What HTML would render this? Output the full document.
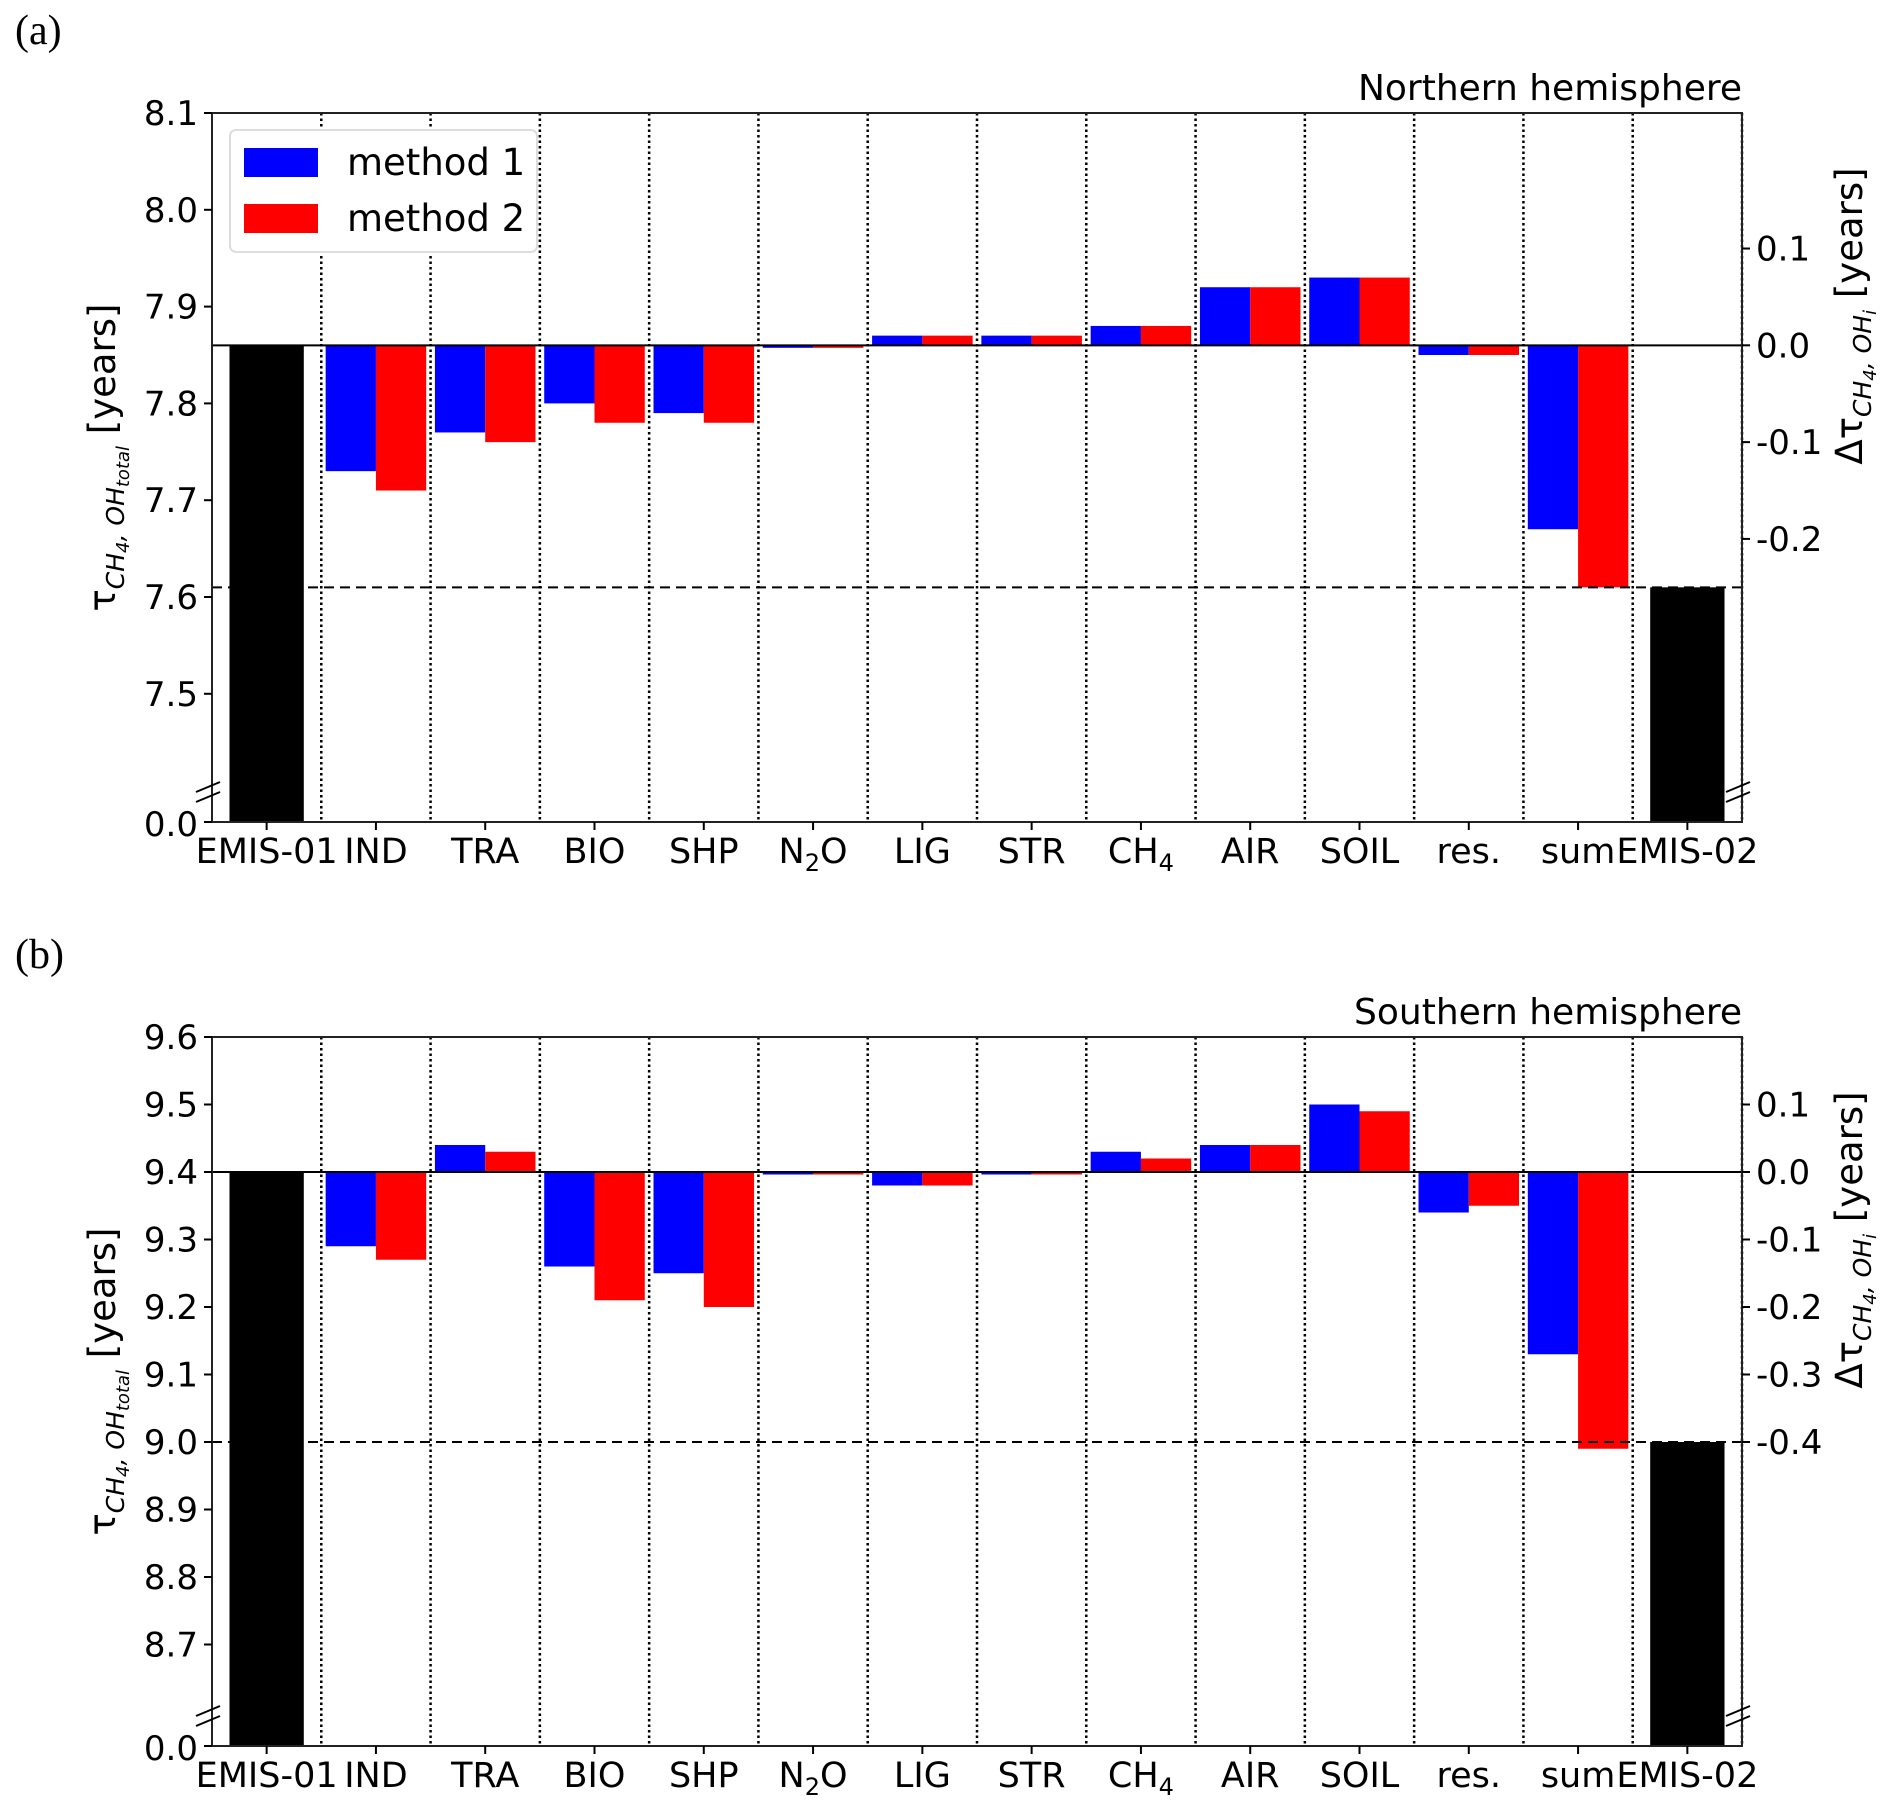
<!DOCTYPE html>
<html><head><meta charset="utf-8"><style>
html,body{margin:0;padding:0;background:#fff;}
svg{display:block;font-family:"DejaVu Sans","Liberation Sans",sans-serif;}
</style></head><body>
<svg id="fig" width="1892" height="1814" viewBox="0 0 1892 1814" xmlns="http://www.w3.org/2000/svg"></svg>
<script>
const categories = ["EMIS-01","IND","TRA","BIO","SHP","N2O","LIG","STR","CH4","AIR","SOIL","res.","sum","EMIS-02"];
const northM1 = [7.73,7.77,7.80,7.79,7.859,7.87,7.87,7.88,7.92,7.93,7.85,7.67];
const northM2 = [7.71,7.76,7.78,7.78,7.859,7.87,7.87,7.88,7.92,7.93,7.85,7.61];
const northRef = [7.86,7.61];
const southM1 = [9.29,9.44,9.26,9.25,9.399,9.38,9.399,9.43,9.44,9.50,9.34,9.13];
const southM2 = [9.27,9.43,9.21,9.20,9.399,9.38,9.399,9.42,9.44,9.49,9.35,8.99];
const southRef = [9.40,9.00];
const northTicks = [8.1,8.0,7.9,7.8,7.7,7.6,7.5];
const southTicks = [9.6,9.5,9.4,9.3,9.2,9.1,9.0,8.9,8.8,8.7];
const northDTicks = [0.1,0.0,-0.1,-0.2];
const southDTicks = [0.1,0.0,-0.1,-0.2,-0.3,-0.4];

const NS="http://www.w3.org/2000/svg";
const svg=document.getElementById('fig');
function mk(tag,attrs,parent){const e=document.createElementNS(NS,tag);for(const k in attrs)e.setAttribute(k,attrs[k]);(parent||svg).appendChild(e);return e;}

function panel(o){
  const g=mk('g',{});
  
  
  const L=212,R=1742,T=o.top,B=o.bottom;
  const slot=(R-L)/categories.length;
  const y=v=>T+(o.ymax-v)/0.1*o.per;
  const xc=i=>L+slot*(i+0.5);
  const zero=o.ref[0];
  const pl=mk('text',{x:15,y:o.top-69,'font-size':42,'font-family':'"Liberation Serif",serif'},g);pl.textContent=o.letter;
  
  
  const tt=mk('text',{x:R,y:T-13,'font-size':36,'text-anchor':'end'},g);tt.textContent=o.title;
  
  
  for(let i=1;i<=categories.length;i++){
    const x=L+slot*i;
    const ln=mk('line',{x1:x,y1:T,x2:x,y2:B,stroke:'#000','stroke-width':2.5,'stroke-dasharray':'2.5,3'},g);
    
    
  }
  const bw=slot*0.68;
  [[0,o.ref[0]],[categories.length-1,o.ref[1]]].forEach(([i,v])=>{
    const r=mk('rect',{x:xc(i)-bw/2,y:y(v),width:bw,height:B-y(v),fill:'#000'},g);
    
    
  });
  const hw=slot*0.46;
  o.m1.forEach((v,k)=>{
    const i=k+1;
    const y0=Math.min(y(v),y(zero)),h=Math.max(Math.abs(y(v)-y(zero)),2.5);
    const r=mk('rect',{x:xc(i)-hw,y:y0,width:hw,height:h,fill:'#0000ff'},g);
    
    
  });
  o.m2.forEach((v,k)=>{
    const i=k+1;
    const y0=Math.min(y(v),y(zero)),h=Math.max(Math.abs(y(v)-y(zero)),2.5);
    const r=mk('rect',{x:xc(i),y:y0,width:hw,height:h,fill:'#ff0000'},g);
    
    
  });
  const zl=mk('line',{x1:L,y1:y(zero),x2:R,y2:y(zero),stroke:'#000','stroke-width':2},g);
  
  
  const dl=mk('line',{x1:L,y1:y(o.ref[1]),x2:R,y2:y(o.ref[1]),stroke:'#000','stroke-width':2,'stroke-dasharray':'10,6'},g);
  
  
  const fr=mk('rect',{x:L,y:T,width:R-L,height:B-T,fill:'none',stroke:'#222','stroke-width':2},g);
  
  
  o.ticks.forEach(t=>{
    mk('line',{x1:L-8,y1:y(t),x2:L,y2:y(t),stroke:'#000','stroke-width':2},g);
    const tx=mk('text',{x:L-14,y:y(t)+12,'font-size':34,'text-anchor':'end'},g);tx.textContent=t.toFixed(1);
    
    
  });
  mk('line',{x1:L-8,y1:B,x2:L,y2:B,stroke:'#000','stroke-width':2},g);
  const z0=mk('text',{x:L-14,y:B+14,'font-size':34,'text-anchor':'end'},g);z0.textContent='0.0';
  
  
  o.dticks.forEach(t=>{
    const yy=y(zero+t);
    mk('line',{x1:R,y1:yy,x2:R+8,y2:yy,stroke:'#000','stroke-width':2},g);
    const tx=mk('text',{x:R+14,y:yy+12,'font-size':34},g);tx.textContent=(t<0?'-':'')+Math.abs(t).toFixed(1);
    
    
  });
  [L,R].forEach(x=>{
    mk('line',{x1:x-16,y1:B-30,x2:x+8,y2:B-40,stroke:'#000','stroke-width':2},g);
    mk('line',{x1:x-16,y1:B-20,x2:x+8,y2:B-30,stroke:'#000','stroke-width':2},g);
  });
  categories.forEach((c,i)=>{
    mk('line',{x1:xc(i),y1:B,x2:xc(i),y2:B+8,stroke:'#000','stroke-width':2},g);
    const tx=mk('text',{x:xc(i),y:B+41,'font-size':35,'text-anchor':'middle'},g);
    if(c==='N2O'){tx.innerHTML='N<tspan font-size="24" dy="8">2</tspan><tspan dy="-8">O</tspan>';}
    else if(c==='CH4'){tx.innerHTML='CH<tspan font-size="24" dy="8">4</tspan>';}
    else tx.textContent=c;
    
    
  });
  const yl=mk('text',{transform:`translate(115,${(T+B)/2-10}) rotate(-90)`,'font-size':37,'text-anchor':'middle'},g);
  yl.innerHTML='τ<tspan font-size="25" font-style="italic" dy="9">CH</tspan><tspan font-size="18" font-style="italic" dy="5">4</tspan><tspan font-size="25" font-style="italic" dy="-5">, OH</tspan><tspan font-size="18" font-style="italic" dy="5">total</tspan><tspan dy="-14"> [years]</tspan>';
  
  
  const rl=mk('text',{transform:`translate(1862,${T+203}) rotate(-90)`,'font-size':37,'text-anchor':'middle'},g);
  rl.innerHTML='Δτ<tspan font-size="25" font-style="italic" dy="9">CH</tspan><tspan font-size="18" font-style="italic" dy="5">4</tspan><tspan font-size="25" font-style="italic" dy="-5">, OH</tspan><tspan font-size="18" font-style="italic" dy="5">i</tspan><tspan dy="-14"> [years]</tspan>';
  
  
  if(o.legend){
    const lg=mk('g',{},g);
    
    
    mk('rect',{x:230,y:130,width:307,height:122,rx:6,fill:'#fff',stroke:'#ddd','stroke-width':2},lg);
    mk('rect',{x:244,y:148,width:74,height:29,fill:'#0000ff'},lg);
    mk('rect',{x:244,y:204,width:74,height:29,fill:'#ff0000'},lg);
    const a=mk('text',{x:347,y:175,'font-size':37},lg);a.textContent='method 1';
    
    
    const b=mk('text',{x:347,y:231,'font-size':37},lg);b.textContent='method 2';
    
    
  }
}
panel({name:'panel-a-northern',letter:'(a)',title:'Northern hemisphere',top:113,bottom:822,ymax:8.1,per:96.8,m1:northM1,m2:northM2,ref:northRef,ticks:northTicks,dticks:northDTicks,legend:true});
panel({name:'panel-b-southern',letter:'(b)',title:'Southern hemisphere',top:1037,bottom:1746,ymax:9.6,per:67.5,m1:southM1,m2:southM2,ref:southRef,ticks:southTicks,dticks:southDTicks,legend:false});
</script>
</body></html>
